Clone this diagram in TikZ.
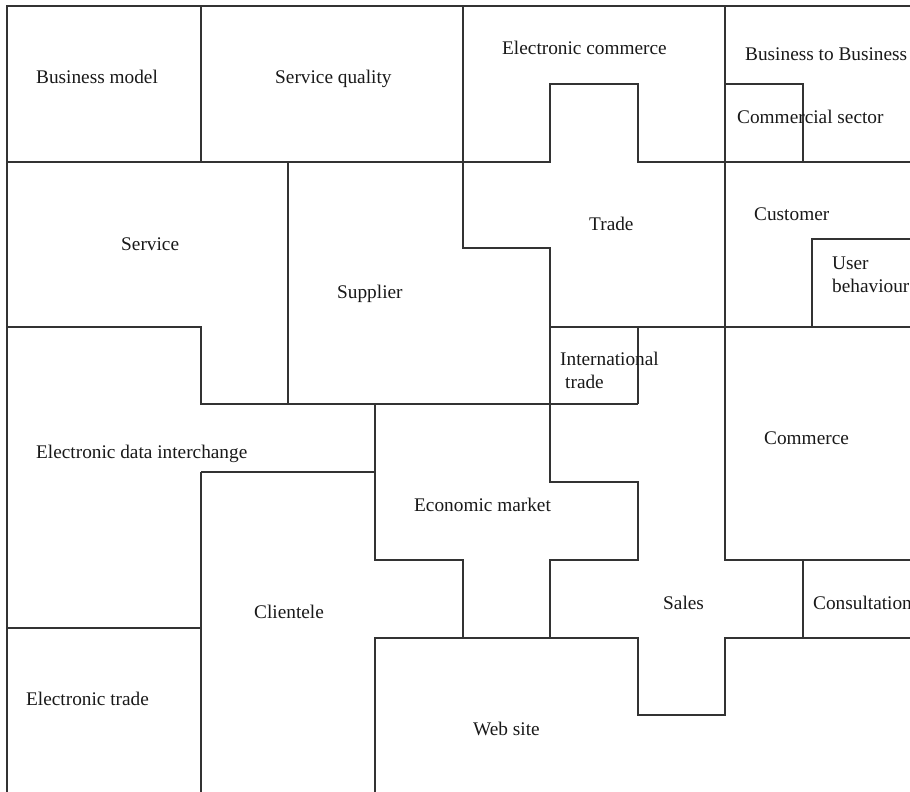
\documentclass[tikz,border=0pt]{standalone}
\usepackage{fontspec}
\setmainfont{Liberation Serif}
\begin{document}
\begin{tikzpicture}[x=1pt,y=-1pt,
  wall/.style={draw=black!80,line width=1.1pt,line join=miter},
  lbl/.style={anchor=base west,inner sep=0pt,text=black!90,
    font=\fontsize{19.3}{23}\selectfont,align=left}]
\useasboundingbox (0,0) rectangle (910,792);
\fill[white] (0,0) rectangle (910,792);
\clip (0,0) rectangle (910,792);

% outer frame (top and left only)
\draw[wall] (7,792) -- (7,6) -- (910,6);

% top band
\draw[wall] (201,6) -- (201,162);
\draw[wall] (7,162) -- (550,162) -- (550,84) -- (638,84) -- (638,162) -- (910,162);
\draw[wall] (725,84) -- (803,84) -- (803,162);

% middle band
\draw[wall] (463,6) -- (463,248) -- (550,248) -- (550,482) -- (638,482)
            -- (638,560) -- (550,560) -- (550,638);
\draw[wall] (725,6) -- (725,560) -- (910,560);
\draw[wall] (550,327) -- (910,327);
\draw[wall] (812,327) -- (812,239) -- (910,239);
\draw[wall] (638,327) -- (638,404);
\draw[wall] (288,162) -- (288,404);
\draw[wall] (7,327) -- (201,327) -- (201,404) -- (638,404);

% lower band
\draw[wall] (375,404) -- (375,560) -- (463,560) -- (463,638);
\draw[wall] (201,472) -- (375,472);
\draw[wall] (201,792) -- (201,472);
\draw[wall] (7,628) -- (201,628);
\draw[wall] (375,792) -- (375,638) -- (638,638) -- (638,715) -- (725,715)
            -- (725,638) -- (910,638);
\draw[wall] (803,560) -- (803,638);

% labels
\node[lbl] (bm)  at (36,84)   {Business model};
\node[lbl] (sq)  at (275,84)  {Service quality};
\node[lbl] (ec)  at (502,55)  {Electronic commerce};
\node[lbl] (b2b) at (745,60)  {Business to Business};
\node[lbl] (cs)  at (737,123) {Commercial sector};
\node[lbl] (sv)  at (121,250) {Service};
\node[lbl] (sup) at (337,298) {Supplier};
\node[lbl] (tr)  at (589,230) {Trade};
\node[lbl] (cu)  at (754,220) {Customer};
\node[lbl] (ub1) at (832,269) {User};
\node[lbl] (ub2) at (832,292) {behaviour};
\node[lbl] (it1) at (560,365) {International};
\node[lbl] (it2) at (565,388) {trade};
\node[lbl] (co)  at (764,444) {Commerce};
\node[lbl] (edi) at (36,458)  {Electronic data interchange};
\node[lbl] (em)  at (414,511) {Economic market};
\node[lbl] (cl)  at (254,618) {Clientele};
\node[lbl] (sa)  at (663,609) {Sales};
\node[lbl] (cn)  at (813,609) {Consultation};
\node[lbl] (et)  at (26,705)  {Electronic trade};
\node[lbl] (ws)  at (473,735) {Web site};
\end{tikzpicture}
\end{document}
